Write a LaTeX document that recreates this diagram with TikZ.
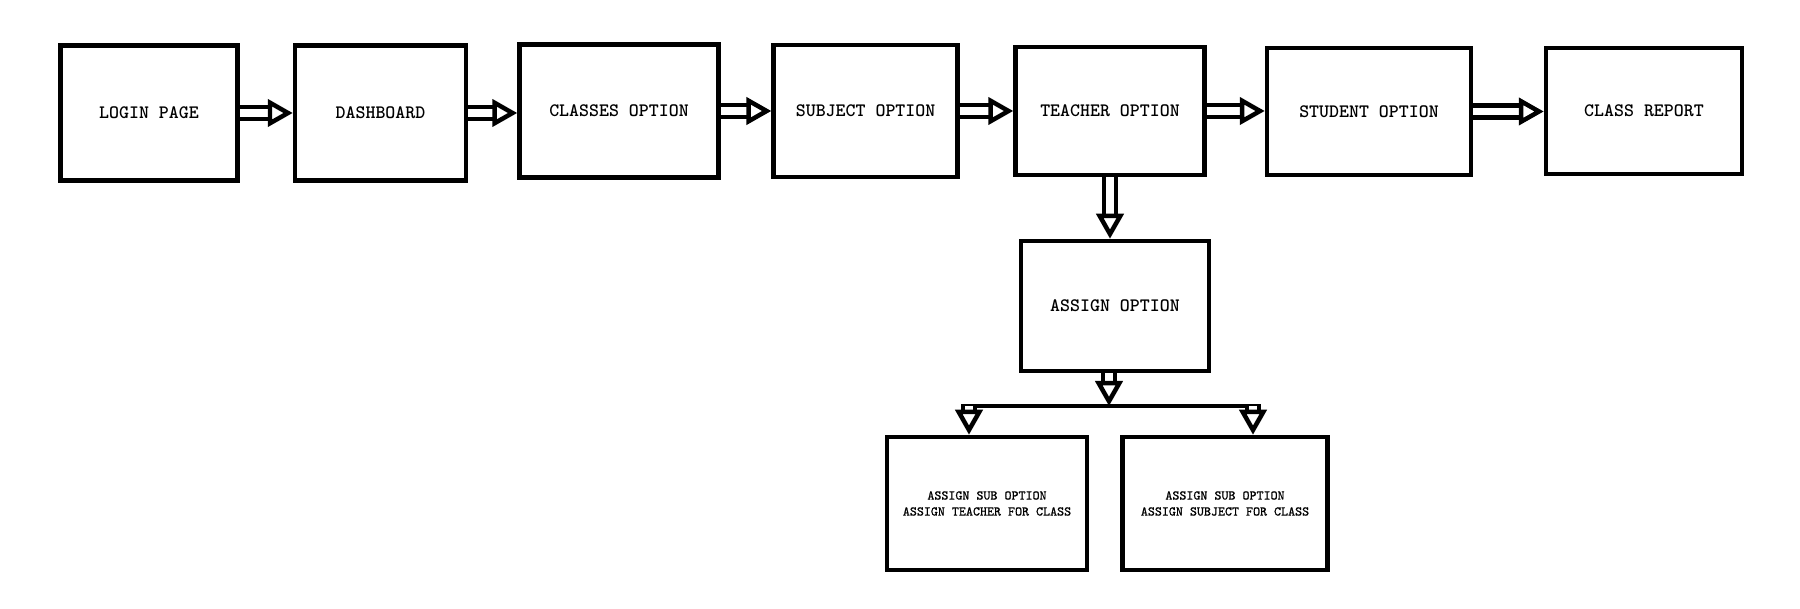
\documentclass[tikz,border=0pt]{standalone}
\usepackage{fontspec}
\newfontfamily\boxfont{lmmonolt10-bold.otf}
\newfontfamily\subfont{lmmono10-regular.otf}[FakeBold=1]
\usetikzlibrary{arrows.meta}
\begin{document}
\begin{tikzpicture}[
    box/.style={draw,line width=1.28pt,inner sep=0pt,align=center,
        font=\boxfont\fontsize{5.4}{6.5}\selectfont},
    subbox/.style={box,font=\subfont\fontsize{3.8}{4.55}\selectfont},
    flow/.style={double,double distance=2pt,line width=1.28pt,
        -{Triangle[open,length=0.25cm,width=0.27cm,line width=1.28pt]}}
  ]
    \useasboundingbox (0,0) rectangle (18,6.09);
    % main row
    \node[box,minimum width=1.77cm,minimum height=1.35cm] (login) at (1.49,4.96) {LOGIN PAGE};
    \node[box,minimum width=1.71cm,minimum height=1.35cm] (dash) at (3.805,4.96) {DASHBOARD};
    \node[box,minimum width=1.99cm,minimum height=1.33cm] (classes) at (6.19,4.98) {CLASSES OPTION};
    \node[box,minimum width=1.84cm,minimum height=1.32cm] (subject) at (8.656,4.98) {SUBJECT OPTION};
    \node[box,minimum width=1.89cm,minimum height=1.28cm] (teacher) at (11.10,4.98) {TEACHER OPTION};
    \node[box,minimum width=2.04cm,minimum height=1.27cm] (student) at (13.69,4.975) {STUDENT OPTION};
    \node[box,minimum width=1.96cm,minimum height=1.26cm] (report) at (16.44,4.98) {CLASS REPORT};
    % assign branch
    \node[box,minimum width=1.88cm,minimum height=1.30cm] (assign) at (11.15,3.03) {ASSIGN OPTION};
    \node[subbox,minimum width=2.00cm,minimum height=1.33cm] (subteach) at (9.87,1.055) {ASSIGN SUB OPTION\\ASSIGN TEACHER FOR CLASS};
    \node[subbox,minimum width=2.05cm,minimum height=1.33cm] (subsubj) at (12.25,1.055) {ASSIGN SUB OPTION\\ASSIGN SUBJECT FOR CLASS};
    \coordinate (split) at (11.09,2.03);
    \coordinate (splitl) at (9.69,2.03);
    \coordinate (splitr) at (12.53,2.03);

    \draw[flow] (login.east) -- (login.east -| dash.west);
    \draw[flow] (dash.east) -- (dash.east -| classes.west);
    \draw[flow] (classes.east) -- (classes.east -| subject.west);
    \draw[flow] (subject.east) -- (subject.east -| teacher.west);
    \draw[flow] (teacher.east) -- (teacher.east -| student.west);
    \draw[flow] (student.east) -- (student.east -| report.west);
    \draw[flow] (teacher.south) -- (teacher.south |- assign.north);
    \draw[flow] (assign.south -| split) -- (split);
    \draw[line width=1.28pt,shorten <=-0.08cm,shorten >=-0.08cm] (splitl) -- (splitr);
    \draw[flow] (splitl) -- (splitl |- subteach.north);
    \draw[flow] (splitr) -- (splitr |- subsubj.north);
\end{tikzpicture}
\end{document}
